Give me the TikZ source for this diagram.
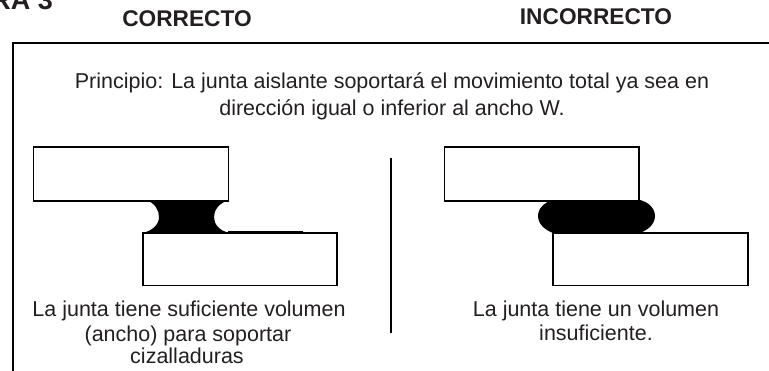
\documentclass[tikz,border=0pt]{standalone}
\usepackage{fontspec}
\setmainfont{Liberation Sans}
\definecolor{ink}{HTML}{231F20}
\tikzset{
  x=1pt,y=-1pt,
  slab/.style={draw=black,line width=1.8pt,fill=white,inner sep=0pt,outer sep=0pt,anchor=north west},
  seal/.style={fill=black,draw=none},
  rulel/.style={draw=black,line width=2pt},
  body/.style={text=ink,font=\fontsize{21.5}{25}\selectfont,align=center,inner sep=0pt,anchor=base},
  head/.style={text=ink,font=\fontsize{22.7}{27}\selectfont\bfseries,inner sep=0pt,anchor=base},
  tag/.style={text=ink,font=\fontsize{27}{30}\selectfont\bfseries,inner sep=0pt,anchor=base east}
}
\begin{document}
\begin{tikzpicture}
\useasboundingbox (0,0) rectangle (769,371);
\clip (0,0) rectangle (769,371);
\node[tag] (fig) at (53,10) {RA 3};
\node[head] (ok) at (187,27) {CORRECTO};
\node[head] (bad) at (596,25) {INCORRECTO};
\draw[rulel] (12.5,371) -- (12.5,43.5) -- (769,43.5);
\node[body] (pr1) at (392,89) {Principio: La junta aislante soportará el movimiento total ya sea en};
\node[body] (pr2) at (392,116) {dirección igual o inferior al ancho W.};
\draw[rulel] (390.7,158) -- (390.7,333);
% left joint
\fill[seal] (146,200) .. controls (155,203) and (159,210) .. (159,217) .. controls (159,224) and (153,231) .. (142,233)
  -- (230,233) .. controls (219,231) and (214,224) .. (214,217) .. controls (214,210) and (219,203) .. (229,200) -- cycle;
\node[slab,minimum width=195pt,minimum height=54pt] (a1) at (33.5,147) {};
\node[slab,minimum width=194pt,minimum height=52.5pt] (a2) at (142.7,233) {};
\draw[draw=black,line width=1pt] (228,231.8) -- (303,231.8);
% right joint
\fill[seal] (553,200) .. controls (545,202) and (538,208) .. (538,216) .. controls (538,224) and (545,230) .. (553,233)
  -- (640,233) .. controls (648,230) and (655,224) .. (655,216) .. controls (655,208) and (648,202) .. (640,200) -- cycle;
\node[slab,minimum width=194.5pt,minimum height=54pt] (b1) at (444.5,147) {};
\node[slab,minimum width=195pt,minimum height=52.5pt] (b2) at (553,233) {};
\node[body] (c1) at (189,317) {La junta tiene suficiente volumen};
\node[body] (c2) at (188,342) {(ancho) para soportar};
\node[body] (c3) at (187,364) {cizalladuras};
\node[body] (d1) at (596,317) {La junta tiene un volumen};
\node[body] (d2) at (596,341) {insuficiente.};
\end{tikzpicture}
\end{document}
